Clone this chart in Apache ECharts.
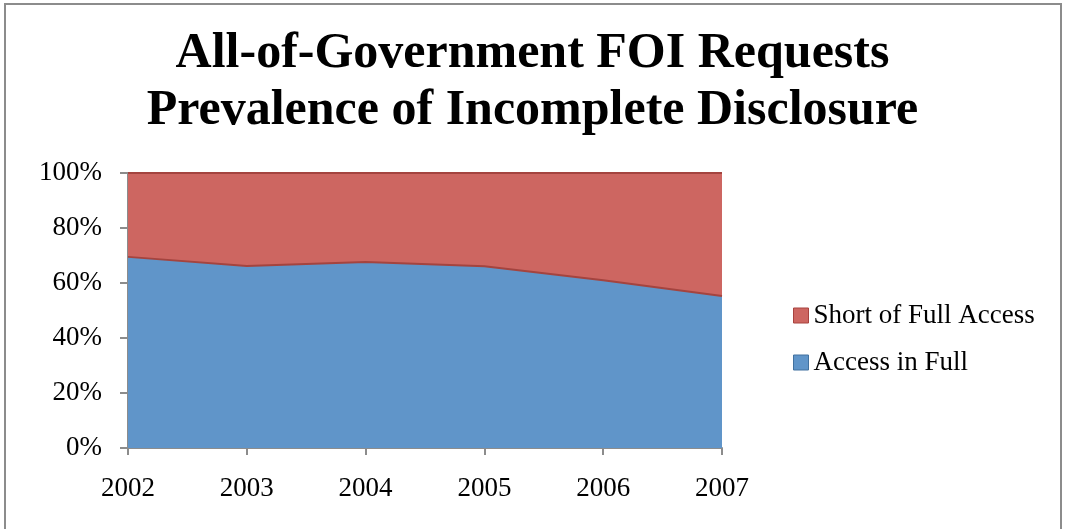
<!DOCTYPE html>
<html>
<head>
<meta charset="utf-8">
<script src="https://cdn.jsdelivr.net/npm/echarts@6/dist/echarts.min.js"></script>
<style>
  html, body { margin: 0; padding: 0; background: #fff; }
  #chart { width: 1065px; height: 529px; }
</style>
</head>
<body>
<div id="chart"></div>
<script>
// Share of FOI requests by outcome, per year (percent)
const years = ['2002', '2003', '2004', '2005', '2006', '2007'];
const accessInFull = [69.5, 66.2, 67.6, 66.1, 61.0, 55.3];
const shortOfFull = [30.5, 33.8, 32.4, 33.9, 39.0, 44.7];
const yTicks = ['0%', '20%', '40%', '60%', '80%', '100%'];

const serif = '"Liberation Serif", "DejaVu Serif", serif';
const chart = echarts.init(document.getElementById('chart'));

chart.setOption({
  animation: false,
  backgroundColor: '#fff',
  title: {
    text: 'All-of-Government FOI Requests\nPrevalence of Incomplete Disclosure',
    left: 'center',
    top: 21,
    textStyle: {
      fontFamily: serif,
      fontWeight: 'bold',
      fontSize: 50,
      lineHeight: 57,
      color: '#000'
    }
  },
  graphic: [{
    type: 'rect',
    shape: { x: 5, y: 4, width: 1056, height: 540 },
    style: { fill: 'none', stroke: '#8c8c8c', lineWidth: 2 },
    silent: true
  }],
  legend: {
    orient: 'vertical',
    left: 788,
    top: 297,
    itemWidth: 15,
    itemHeight: 15,
    itemGap: 20,
    icon: 'rect',
    textStyle: { fontFamily: serif, fontSize: 27, color: '#000' },
    data: [
      { name: 'Short of Full Access', itemStyle: { color: '#cd6661', borderColor: '#a8423e', borderWidth: 1 } },
      { name: 'Access in Full', itemStyle: { color: '#6095c9', borderColor: '#41719f', borderWidth: 1 } }
    ]
  },
  grid: { left: 128, top: 173, width: 594, height: 275, containLabel: false },
  xAxis: {
    type: 'category',
    data: years,
    boundaryGap: false,
    axisLine: { show: true, lineStyle: { color: '#8c8c8c', width: 2 } },
    axisTick: { show: true, length: 7, lineStyle: { color: '#8c8c8c', width: 2 } },
    axisLabel: { fontFamily: serif, fontSize: 27, color: '#000', margin: 27 },
    splitLine: { show: false }
  },
  yAxis: {
    type: 'value',
    min: 0,
    max: 100,
    interval: 20,
    axisLine: { show: true, lineStyle: { color: '#8c8c8c', width: 2 } },
    axisTick: { show: true, length: 8, inside: false, lineStyle: { color: '#8c8c8c', width: 2 } },
    axisLabel: {
      fontFamily: serif, fontSize: 27, color: '#000', margin: 26,
      padding: [6, 0, 0, 0],
      formatter: v => yTicks[Math.round(v / 20)]
    },
    splitLine: { show: false }
  },
  series: [
    {
      name: 'Access in Full',
      type: 'line',
      stack: 'total',
      data: accessInFull,
      symbol: 'none',
      lineStyle: { color: '#a4443f', width: 2 },
      areaStyle: { color: '#6095c9', opacity: 1 },
      itemStyle: { color: '#6095c9' },
      z: 3
    },
    {
      name: 'Short of Full Access',
      type: 'line',
      stack: 'total',
      data: shortOfFull,
      symbol: 'none',
      lineStyle: { color: '#a4443f', width: 2 },
      areaStyle: { color: '#cd6661', opacity: 1 },
      itemStyle: { color: '#cd6661' },
      z: 2
    }
  ]
});
</script>
</body>
</html>
